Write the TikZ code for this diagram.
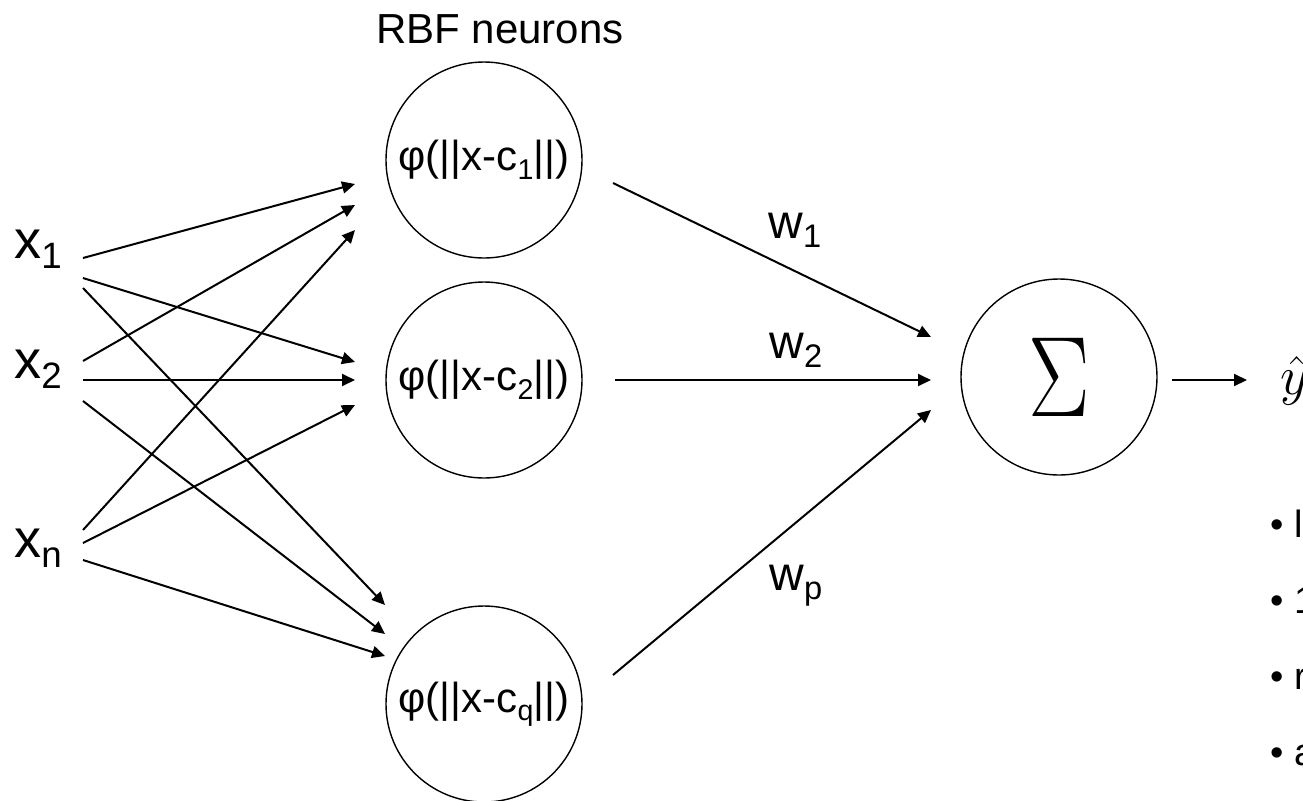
\documentclass[tikz,border=0pt]{standalone}
\usepackage{fontspec}
\setmainfont{Liberation Sans}
\usetikzlibrary{arrows.meta}
\newcommand{\mysub}[1]{\raisebox{-0.2em}{\scalebox{0.68}{#1}}}
\begin{document}
\begin{tikzpicture}[x=0.5pt,y=-0.5pt,
  conn/.style={line width=1pt,-{Triangle[length=6.5pt,width=6pt]}},
  neuron/.style={circle,draw,line width=0.7pt,minimum size=98pt,inner sep=0pt},
  rbf/.style={font=\fontsize{21}{25}\selectfont},
  inp/.style={font=\fontsize{27}{31}\selectfont,inner sep=0pt,anchor=base west},
  wl/.style={font=\fontsize{24}{28}\selectfont,inner sep=0pt,anchor=base west},
  bul/.style={font=\fontsize{19}{23}\selectfont,inner sep=0pt,anchor=base west}]
\useasboundingbox (0,0) rectangle (1303,800);
\clip (0,0) rectangle (1303,800);
% title and neurons
\node[rbf,inner sep=0pt,anchor=base] (title) at (500,43) {RBF neurons};
\node[neuron,rbf] (c1) at (484,160) {φ(||x-c\mysub{1}||)};
\node[neuron,rbf] (c2) at (484,380) {φ(||x-c\mysub{2}||)};
\node[neuron,rbf] (cq) at (484,704) {φ(||x-c\mysub{q}||)};
\node[neuron] (sum) at (1059,377) {\scalebox{1.85}[2.3]{\fontsize{24}{28}\selectfont$\Sigma$}};
% inputs
\node[inp] (x1) at (14,258) {x\mysub{1}};
\node[inp] (x2) at (14,378) {x\mysub{2}};
\node[inp] (xn) at (14,557) {x\mysub{n}};
% input connector ends
\coordinate (s11) at (83,258); \coordinate (e11) at (355,184);
\coordinate (s12) at (83,278); \coordinate (e12) at (355,362);
\coordinate (s1q) at (83,288); \coordinate (e1q) at (385,605);
\coordinate (s21) at (83,361); \coordinate (e21) at (355,205);
\coordinate (s22) at (83,380); \coordinate (e22) at (355,380);
\coordinate (s2q) at (83,401); \coordinate (e2q) at (385,634);
\coordinate (sn1) at (83,530); \coordinate (en1) at (355,230);
\coordinate (sn2) at (83,543); \coordinate (en2) at (355,405);
\coordinate (snq) at (83,560); \coordinate (enq) at (385,656);
\draw[conn] (s11) -- (e11);
\draw[conn] (s12) -- (e12);
\draw[conn] (s1q) -- (e1q);
\draw[conn] (s21) -- (e21);
\draw[conn] (s22) -- (e22);
\draw[conn] (s2q) -- (e2q);
\draw[conn] (sn1) -- (en1);
\draw[conn] (sn2) -- (en2);
\draw[conn] (snq) -- (enq);
% weight connectors
\coordinate (o1) at (613,183); \coordinate (t1) at (931,337);
\coordinate (o2) at (615,380); \coordinate (t2) at (931,380);
\coordinate (oq) at (613,675); \coordinate (tq) at (931,410);
\draw[conn] (o1) -- (t1);
\draw[conn] (o2) -- (t2);
\draw[conn] (oq) -- (tq);
\node[wl] (w1) at (768,238) {w\mysub{1}};
\node[wl] (w2) at (769,358) {w\mysub{2}};
\node[wl] (wp) at (769,590) {w\mysub{p}};
% output
\coordinate (yo) at (1172,380); \coordinate (yt) at (1247,380);
\draw[conn] (yo) -- (yt);
\node[inner sep=0pt,anchor=west] (yhat) at (1280,381) {\scalebox{1.1}{\fontsize{24}{28}\selectfont$\hat{y}$}};
% bullets (cut at the right edge)
\node[bul] (b1) at (1270,537) {• l};
\node[bul] (b2) at (1270,613) {• 1};
\node[bul] (b3) at (1270,689) {• r};
\node[bul] (b4) at (1270,765) {• a};
\end{tikzpicture}
\end{document}
